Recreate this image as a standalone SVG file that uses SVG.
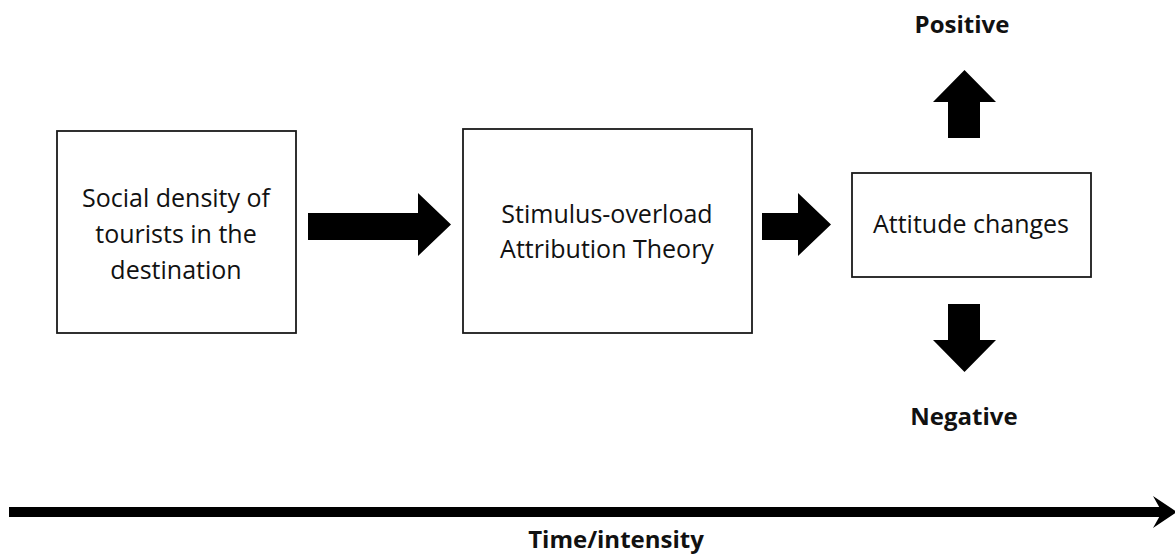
<svg xmlns="http://www.w3.org/2000/svg" width="1175" height="559" viewBox="0 0 1175 559">
<style>
.box{fill:#fff;stroke:#1a1a1a;stroke-width:1.8}
.t{font-family:"Open Sans","Liberation Sans",sans-serif;font-size:25px;fill:#111;text-anchor:middle}
.b{font-family:"Open Sans","Liberation Sans",sans-serif;font-size:24px;font-weight:bold;fill:#111;text-anchor:middle}
.arr{fill:#000}
</style>
<rect width="1175" height="559" fill="#fff"/>
<g id="node-social">
<rect class="box" x="57" y="131" width="239" height="202"/>
<text class="t" x="176" y="207">Social density of</text>
<text class="t" x="176" y="243">tourists in the</text>
<text class="t" x="176" y="279">destination</text>
</g>
<g id="node-theory">
<rect class="box" x="463" y="129" width="289" height="204"/>
<text class="t" x="607" y="223">Stimulus-overload</text>
<text class="t" x="607" y="258">Attribution Theory</text>
</g>
<g id="node-attitude">
<rect class="box" x="852" y="173" width="239" height="104"/>
<text class="t" x="971" y="233">Attitude changes</text>
</g>
<g id="label-positive"><text class="b" x="962" y="33">Positive</text></g>
<g id="label-negative"><text class="b" x="964" y="425">Negative</text></g>
<g id="label-time"><text class="b" x="616" y="548">Time/intensity</text></g>
<g id="connectors">
<path class="arr" d="M308,213 H418 V193 L451,224.5 L418,256 V240 H308 Z"/>
<path class="arr" d="M762,213 H798 V193 L831,224.5 L798,256 V240 H762 Z"/>
<path class="arr" d="M948,138 V102 H933 L964.5,70 L996,102 H980 V138 Z"/>
<path class="arr" d="M948,304 V340 H933 L964.5,372 L996,340 H980 V304 Z"/>
<rect class="arr" x="9" y="507" width="1155" height="10"/>
<path class="arr" d="M1153,496 L1177,512 L1153,528 L1162,512 Z"/>
</g>
</svg>
